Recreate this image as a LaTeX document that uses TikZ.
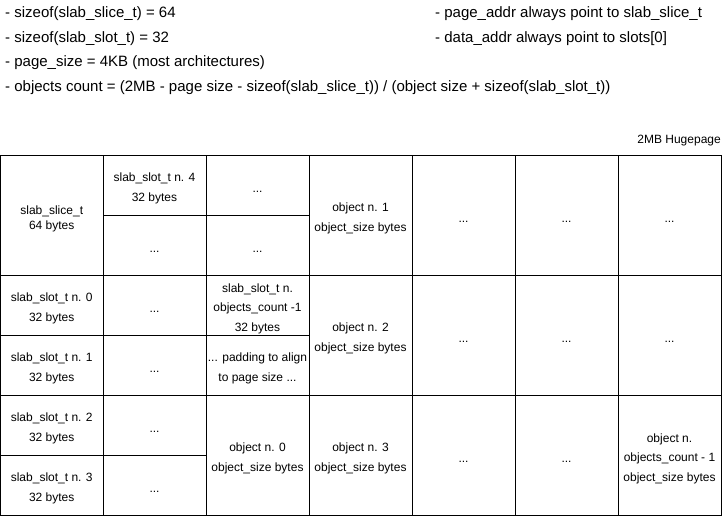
\documentclass[tikz,border=0pt]{standalone}
\usepackage{fontspec}
\setmainfont{Liberation Sans}
\begin{document}
\begin{tikzpicture}[x=1pt,y=-1pt,
  cell/.style={draw=black, line width=1pt, rectangle, inner sep=0pt, outer sep=0pt,
    anchor=north west},
  celltext/.style={inner sep=0pt, yshift=-3.5pt, align=center,
    font=\fontsize{12}{19.5}\selectfont},
  note/.style={anchor=west, inner sep=0pt, font=\fontsize{15}{18}\selectfont},
  caption/.style={anchor=east, inner sep=0pt, font=\fontsize{12}{14}\selectfont}]
\useasboundingbox (0,0) rectangle (728,516);
% grid cell helper: name, left, top, right, bottom, text
\newcommand{\mcell}[6]{%
  \node[cell, minimum width={#4-#2}, minimum height={#5-#3},
    label={[celltext, name=#1-t]center:#6}] (#1) at (#2,#3) {};}
\newcommand{\dd}{\strut...}

% notes above the page
\node[note] (n1) at (5,14) {- sizeof(slab\_slice\_t) = 64};
\node[note] (n2) at (5,38.5) {- sizeof(slab\_slot\_t) = 32};
\node[note] (n3) at (5,63) {- page\_size = 4KB (most architectures)};
\node[note] (n4) at (5,87.5) {- objects count = (2MB - page size - sizeof(slab\_slice\_t)) / (object size + sizeof(slab\_slot\_t))};
\node[note] (n5) at (435,14) {- page\_addr always point to slab\_slice\_t};
\node[note] (n6) at (435,38.5) {- data\_addr always point to slots[0]};
\node[caption] (hp) at (721,140.5) {2MB Hugepage};

% column 1
\mcell{slice}{0.5}{155}{103}{275}{slab\_slice\_t\\[-4.5pt]64 bytes}
\mcell{s0}{0.5}{275}{103}{335}{slab\_slot\_t n. 0\\32 bytes}
\mcell{s1}{0.5}{335}{103}{395}{slab\_slot\_t n. 1\\32 bytes}
\mcell{s2}{0.5}{395}{103}{455}{slab\_slot\_t n. 2\\32 bytes}
\mcell{s3}{0.5}{455}{103}{515}{slab\_slot\_t n. 3\\32 bytes}
% column 2
\mcell{s4}{103}{155}{206}{215}{slab\_slot\_t n. 4\\32 bytes}
\mcell{b1}{103}{215}{206}{275}{\dd}
\mcell{b2}{103}{275}{206}{335}{\dd}
\mcell{b3}{103}{335}{206}{395}{\dd}
\mcell{b4}{103}{395}{206}{455}{\dd}
\mcell{b5}{103}{455}{206}{515}{\dd}
% column 3
\mcell{c0}{206}{155}{309}{215}{\dd}
\mcell{c1}{206}{215}{309}{275}{\dd}
\mcell{slast}{206}{275}{309}{335}{slab\_slot\_t n.\\objects\_count -1\\32 bytes}
\mcell{pad}{206}{335}{309}{395}{... padding to align\\to page size ...}
\mcell{o0}{206}{395}{309}{515}{object n. 0\\object\_size bytes}
% column 4
\mcell{o1}{309}{155}{412}{275}{object n. 1\\object\_size bytes}
\mcell{o2}{309}{275}{412}{395}{object n. 2\\object\_size bytes}
\mcell{o3}{309}{395}{412}{515}{object n. 3\\object\_size bytes}
% columns 5-7
\mcell{e1}{412}{155}{515}{275}{\dd}
\mcell{e2}{412}{275}{515}{395}{\dd}
\mcell{e3}{412}{395}{515}{515}{\dd}
\mcell{f1}{515}{155}{618}{275}{\dd}
\mcell{f2}{515}{275}{618}{395}{\dd}
\mcell{f3}{515}{395}{618}{515}{\dd}
\mcell{g1}{618}{155}{721}{275}{\dd}
\mcell{g2}{618}{275}{721}{395}{\dd}
\mcell{olast}{618}{395}{721}{515}{object n.\\objects\_count - 1\\object\_size bytes}
\end{tikzpicture}
\end{document}
